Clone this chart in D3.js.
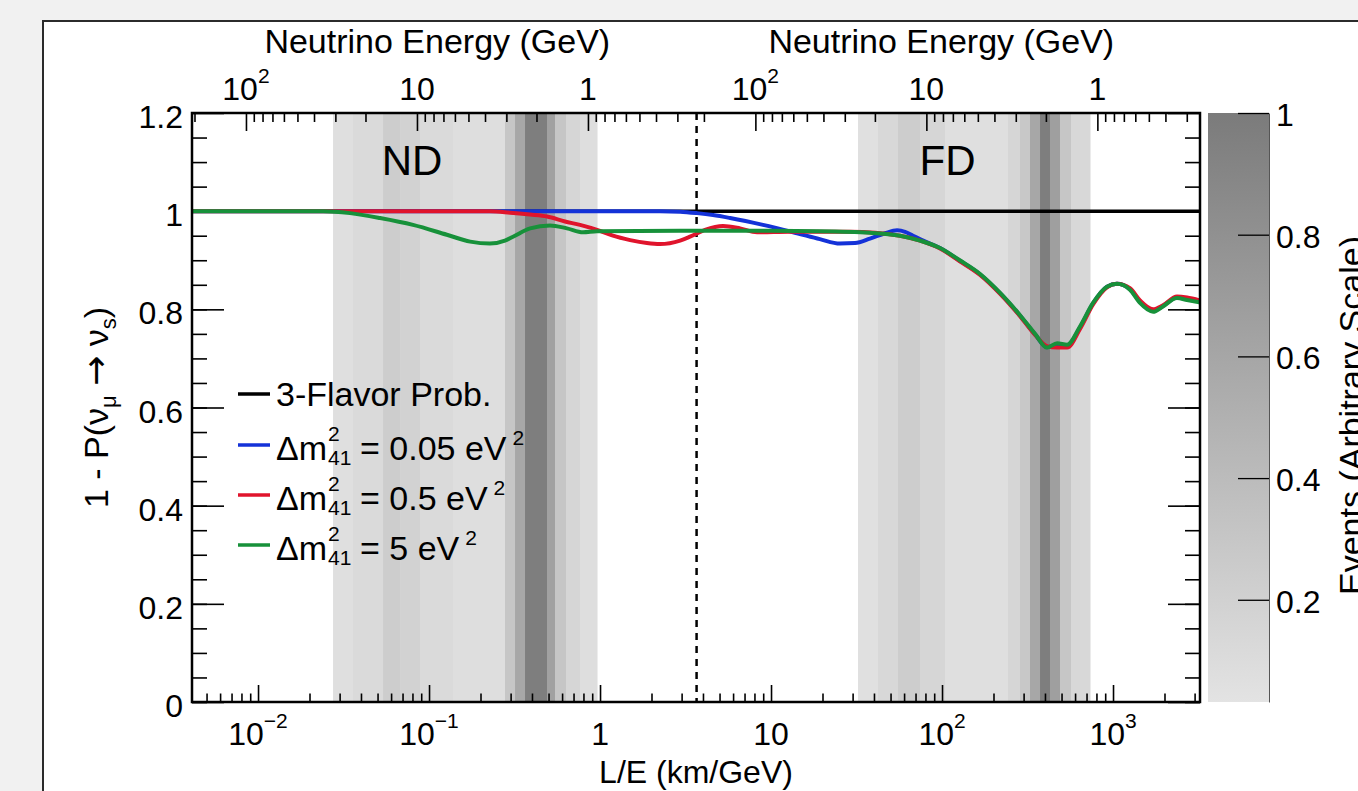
<!DOCTYPE html>
<html>
<head>
<meta charset="utf-8">
<script src="https://cdn.jsdelivr.net/npm/d3@7"></script>
<style>
body { margin: 0; background: #f1f1f1; overflow: hidden; }
svg text { font-family: "Liberation Sans", Arial, Helvetica, sans-serif; fill: #000; }
</style>
</head>
<body>
<script>
// ---- data ----
var yTicks = [0, 0.2, 0.4, 0.6, 0.8, 1, 1.2];
var xMajorTicks = [0.01, 0.1, 1, 10, 100, 1000];
var energyTicks = [100, 10, 1];
var zTicks = [0.2, 0.4, 0.6, 0.8, 1];
var xRange = [0.00411, 3226];          // L/E (km/GeV)
var zRange = [0.032, 1];
var splitLE = 3.67;                     // dashed line between ND and FD
var ndLength = 0.85, fdLength = 810;    // km, for the energy axes
var detectorLabels = [{name: "ND", le: 0.0796}, {name: "FD", le: 107.7}];

// event histograms (L/E bin edges and relative weights)
var ndEdges = [0.02746, 0.03593, 0.05383, 0.06767, 0.08858, 0.1381, 0.2782, 0.3184, 0.3642, 0.4897, 0.5455, 0.6326, 0.7637, 0.9604];
var ndWeights = [0.07, 0.117, 0.239, 0.19, 0.117, 0.079, 0.305, 0.586, 0.97, 0.643, 0.305, 0.154, 0.079];
var fdEdges = [32.27, 42.24, 55.29, 74.33, 104.1, 243.2, 285.8, 327.0, 374.2, 428.0, 489.9, 568.0, 733.6];
var fdWeights = [0.06, 0.135, 0.239, 0.154, 0.07, 0.154, 0.286, 0.586, 0.97, 0.662, 0.305, 0.135];

// survival curves [L/E, 1 - P]
var threeFlavor = [[0.00411, 1], [3226, 1]];
var dm005 = [[0.00411,1],[2.24,1],[2.94,0.999],[3.69,0.996],[4.58,0.992],[5.76,0.986],[8.98,0.972],[14.2,0.955],[19.3,0.943],[25.3,0.934],[31.0,0.935],[37.9,0.944],[46.4,0.955],[54.6,0.961],[60.8,0.958],[67.7,0.950],[85.1,0.934],[97.3,0.925],[127,0.899],[167,0.871],[218,0.833],[286,0.787],[350,0.749],[411,0.723],[471,0.727],[539,0.726],[641,0.763],[764,0.812],[922,0.846],[1055,0.852],[1256,0.841],[1438,0.815],[1714,0.797],[1960,0.807],[2366,0.824],[2709,0.821],[3226,0.816]];
var dm05 = [[0.00411,1],[0.227,1],[0.298,0.997],[0.390,0.993],[0.490,0.989],[0.624,0.979],[0.764,0.972],[1.0,0.960],[1.19,0.950],[1.50,0.941],[1.88,0.935],[2.24,0.933],[2.94,0.940],[3.36,0.948],[4.11,0.962],[5.24,0.970],[6.59,0.965],[8.28,0.957],[12.9,0.958],[29.0,0.958],[56.8,0.950],[74.3,0.940],[97.3,0.924],[127,0.898],[167,0.870],[218,0.832],[286,0.786],[350,0.748],[411,0.725],[471,0.722],[539,0.722],[641,0.760],[764,0.810],[922,0.845],[1055,0.852],[1256,0.843],[1438,0.818],[1714,0.800],[1960,0.808],[2366,0.826],[2709,0.824],[3226,0.818]];
var dm5 = [[0.00411,1],[0.024,1],[0.0345,0.996],[0.0517,0.986],[0.0806,0.972],[0.127,0.952],[0.174,0.938],[0.227,0.934],[0.278,0.940],[0.31,0.948],[0.39,0.965],[0.51,0.971],[0.64,0.965],[0.795,0.957],[0.96,0.959],[2.94,0.960],[7.54,0.960],[19.3,0.959],[37.9,0.956],[56.8,0.950],[74.3,0.940],[97.3,0.925],[127,0.900],[167,0.872],[218,0.834],[286,0.788],[350,0.750],[411,0.722],[471,0.731],[539,0.728],[641,0.765],[764,0.813],[922,0.846],[1055,0.852],[1256,0.840],[1438,0.813],[1714,0.795],[1960,0.806],[2366,0.823],[2709,0.819],[3226,0.814]];

var series = [
    {name: "3-Flavor Prob.", values: threeFlavor, color: "#000000", width: 3.5},
    {name: "0.05", values: dm005, color: "#1432d8", width: 4},
    {name: "0.5", values: dm05, color: "#e0142c", width: 4},
    {name: "5", values: dm5, color: "#17913a", width: 4}
];

// ---- layout ----
var margin = {top: 113, right: 158, bottom: 89, left: 192};
var width = 1358 - margin.left - margin.right,
    height = 791 - margin.top - margin.bottom;

var svg0 = d3.select("body")
    .append("svg")
    .attr("width", 1358)
    .attr("height", 791);

// white canvas with frame, as in the screenshot
svg0.append("rect")
    .attr("x", 43).attr("y", 21)
    .attr("width", 1400).attr("height", 900)
    .attr("fill", "#ffffff")
    .attr("stroke", "#2b2b2b")
    .attr("stroke-width", 2);

var svg = svg0.append("g")
    .attr("transform", "translate(" + margin.left + "," + margin.top + ")");

var x = d3.scaleLog().domain(xRange).range([0, width]);
var y = d3.scaleLinear().domain([0, 1.2]).range([height, 0]);
var z = d3.scaleLinear().domain(zRange).range([height, 0]);
var gray = d3.scaleLinear().domain(zRange).range(["#e3e3e3", "#7b7b7b"]);

svg.append("clipPath").attr("id", "plotclip")
    .append("rect").attr("width", width).attr("height", height);

// event bands
function drawBands(edges, weights) {
    svg.append("g")
        .selectAll("rect")
        .data(weights)
        .enter().append("rect")
        .attr("x", function(d, i) { return x(edges[i]); })
        .attr("width", function(d, i) { return x(edges[i + 1]) - x(edges[i]) + 0.5; })
        .attr("y", 0)
        .attr("height", height)
        .attr("fill", function(d) { return gray(d); });
}
drawBands(ndEdges, ndWeights);
drawBands(fdEdges, fdWeights);

// ND / FD labels
svg.append("g").selectAll("text")
    .data(detectorLabels)
    .enter().append("text")
    .attr("x", function(d) { return x(d.le); })
    .attr("y", 62)
    .style("font-size", "42px")
    .style("text-anchor", "middle")
    .text(function(d) { return d.name; });

// ---- axes ----
var xTickAll = x.ticks();
var xMinor = xTickAll.filter(function(v) { return xMajorTicks.indexOf(+v.toPrecision(3)) < 0; });

svg.append("g")
    .attr("transform", "translate(0," + height + ")")
    .call(d3.axisBottom(x).tickValues(xMajorTicks).tickSize(-17).tickSizeOuter(0).tickFormat(""));
svg.append("g")
    .attr("transform", "translate(0," + height + ")")
    .call(d3.axisBottom(x).tickValues(xMinor).tickSize(-8.5).tickSizeOuter(0).tickFormat(""));

var yMinor = d3.range(0, 24).map(function(i) { return i * 0.05; });
svg.append("g").call(d3.axisLeft(y).tickValues(yTicks).tickSize(-32).tickSizeOuter(0).tickFormat(""));
svg.append("g").call(d3.axisLeft(y).tickValues(yMinor).tickSize(-15).tickSizeOuter(0).tickFormat(""));
svg.append("g").attr("transform", "translate(" + width + ",0)")
    .call(d3.axisRight(y).tickValues(yTicks).tickSize(-32).tickSizeOuter(0).tickFormat(""));
svg.append("g").attr("transform", "translate(" + width + ",0)")
    .call(d3.axisRight(y).tickValues(yMinor).tickSize(-15).tickSizeOuter(0).tickFormat(""));

// energy axes on top, one per detector
var splitX = x(splitLE);
function energyAxis(L, x0, x1) {
    var e = d3.scaleLog().domain([L / xRange[0], L / xRange[1]]).range([0, width]);
    var inside = function(v) { var p = e(v); return p > x0 + 1 && p < x1 - 1; };
    var all = e.ticks().filter(inside);
    var minor = all.filter(function(v) { return energyTicks.indexOf(+v.toPrecision(3)) < 0; });
    var major = energyTicks.filter(inside);
    svg.append("g").call(d3.axisTop(e).tickValues(major).tickSize(-18).tickSizeOuter(0).tickFormat(""));
    svg.append("g").call(d3.axisTop(e).tickValues(minor).tickSize(-9).tickSizeOuter(0).tickFormat(""));
    svg.append("g").selectAll("text")
        .data(major)
        .enter().append("text")
        .attr("x", function(d) { return e(d); })
        .attr("y", -13)
        .style("font-size", "32px")
        .style("text-anchor", "middle")
        .each(function(d) { powLabel(d3.select(this), d); });
    svg.append("text")
        .attr("x", (x0 + x1) / 2 - 7)
        .attr("y", -60)
        .style("font-size", "34px")
        .style("text-anchor", "middle")
        .text("Neutrino Energy (GeV)");
}

function powLabel(t, v) {
    var p = Math.round(Math.log10(v));
    if (p === 0) { t.text("1"); return; }
    if (p === 1) { t.text("10"); return; }
    t.append("tspan").text("10");
    t.append("tspan").attr("dy", -17).style("font-size", "21px")
        .text(p < 0 ? "\u2212" + (-p) : p);
}

energyAxis(ndLength, 0, splitX);
energyAxis(fdLength, splitX, width);

svg.selectAll(".domain").remove();
svg.selectAll(".tick line").attr("stroke", "#000").attr("stroke-width", 1.6);

// tick labels
svg.append("g").selectAll("text")
    .data(xMajorTicks)
    .enter().append("text")
    .attr("x", function(d) { return x(d); })
    .attr("y", height + 43)
    .style("font-size", "32px")
    .style("text-anchor", "middle")
    .each(function(d) { powLabel(d3.select(this), d); });

svg.append("g").selectAll("text")
    .data(yTicks)
    .enter().append("text")
    .attr("x", -9)
    .attr("y", function(d) { return y(d) + 15; })
    .style("font-size", "32px")
    .style("text-anchor", "end")
    .text(function(d) { return d3.format("~g")(d); });

// axis titles
svg.append("text")
    .attr("x", width / 2)
    .attr("y", height + 81)
    .style("font-size", "32px")
    .style("text-anchor", "middle")
    .text("L/E (km/GeV)");

var yt = svg.append("text")
    .attr("transform", "translate(-84," + (y(0.6)) + ") rotate(-90)")
    .style("font-size", "34px")
    .style("text-anchor", "middle");
yt.append("tspan").text("1 - P(\u03bd");
yt.append("tspan").attr("dy", 8).style("font-size", "22px").text("\u03bc");
yt.append("tspan").attr("dy", -8).text(" ");
yt.append("tspan").style("font-family", "DejaVu Sans").style("font-size", "36px").text("\u2192");
yt.append("tspan").text(" \u03bd");
yt.append("tspan").attr("dy", 8).style("font-size", "22px").text("s");
yt.append("tspan").attr("dy", -8).text(")");

// dashed separator
svg.append("line")
    .attr("x1", splitX).attr("x2", splitX)
    .attr("y1", 0).attr("y2", height)
    .attr("stroke", "#000")
    .attr("stroke-width", 2.5)
    .attr("stroke-dasharray", "7,6");

// ---- curves ----
var line = d3.line()
    .x(function(d) { return x(d[0]); })
    .y(function(d) { return y(d[1]); })
    .curve(d3.curveMonotoneX);

svg.append("g").attr("clip-path", "url(#plotclip)")
    .selectAll("path")
    .data(series)
    .enter().append("path")
    .attr("d", function(d) { return line(d.values); })
    .attr("fill", "none")
    .attr("stroke", function(d) { return d.color; })
    .attr("stroke-width", function(d) { return d.width; })
    .attr("stroke-linejoin", "round");

// frame
svg.append("rect")
    .attr("width", width).attr("height", height)
    .attr("fill", "none").attr("stroke", "#000").attr("stroke-width", 2.5);

// ---- legend ----
var legend = svg.append("g").attr("transform", "translate(46,0)");
var rowY = [281, 332, 382, 432];
series.forEach(function(s, i) {
    legend.append("line")
        .attr("x1", 0).attr("x2", 32)
        .attr("y1", rowY[i]).attr("y2", rowY[i])
        .attr("stroke", s.color).attr("stroke-width", 3.5);
    if (i === 0) {
        legend.append("text").attr("x", 38).attr("y", rowY[i] + 12)
            .style("font-size", "34px").text(s.name);
        return;
    }
    var by = rowY[i] + 15;
    legend.append("text").attr("x", 38).attr("y", by).style("font-size", "34px").text("\u0394m");
    legend.append("text").attr("x", 90).attr("y", by - 19).style("font-size", "21px").text("2");
    legend.append("text").attr("x", 90).attr("y", by + 5).style("font-size", "21px").text("41");
    var rest = legend.append("text").attr("x", 122).attr("y", by).style("font-size", "34px")
        .text("= " + s.name + " eV");
    var w = rest.node().getComputedTextLength();
    legend.append("text").attr("x", 122 + w + 6).attr("y", by - 15).style("font-size", "21px").text("2");
});

// ---- colour bar ----
var barX = 1208 - margin.left, barW = 61;
var grad = svg0.append("defs").append("linearGradient")
    .attr("id", "zgrad").attr("x1", 0).attr("y1", 1).attr("x2", 0).attr("y2", 0);
grad.append("stop").attr("offset", "0%").attr("stop-color", gray(zRange[0]));
grad.append("stop").attr("offset", "100%").attr("stop-color", gray(zRange[1]));

svg.append("rect")
    .attr("x", barX).attr("y", z(zRange[1]))
    .attr("width", barW).attr("height", z(zRange[0]) - z(zRange[1]))
    .attr("fill", "url(#zgrad)");

var zAxis = svg.append("g")
    .attr("transform", "translate(" + (barX + barW) + ",0)")
    .call(d3.axisRight(z).tickValues(zTicks).tickSize(-31).tickSizeOuter(0).tickFormat(""));
zAxis.select(".domain").attr("stroke", "#555").attr("stroke-width", 1);
zAxis.selectAll(".tick line").attr("stroke", "#000").attr("stroke-width", 1.3);

svg.append("g").selectAll("text")
    .data(zTicks)
    .enter().append("text")
    .attr("x", barX + barW + 7)
    .attr("y", function(d) { return z(d) + 13; })
    .style("font-size", "32px")
    .text(function(d) { return d3.format("~g")(d); });

svg.append("text")
    .attr("transform", "translate(" + (1363 - margin.left) + "," + (595 - margin.top) + ") rotate(-90)")
    .style("font-size", "34px")
    .text("Events (Arbitrary Scale)");
</script>
</body>
</html>
